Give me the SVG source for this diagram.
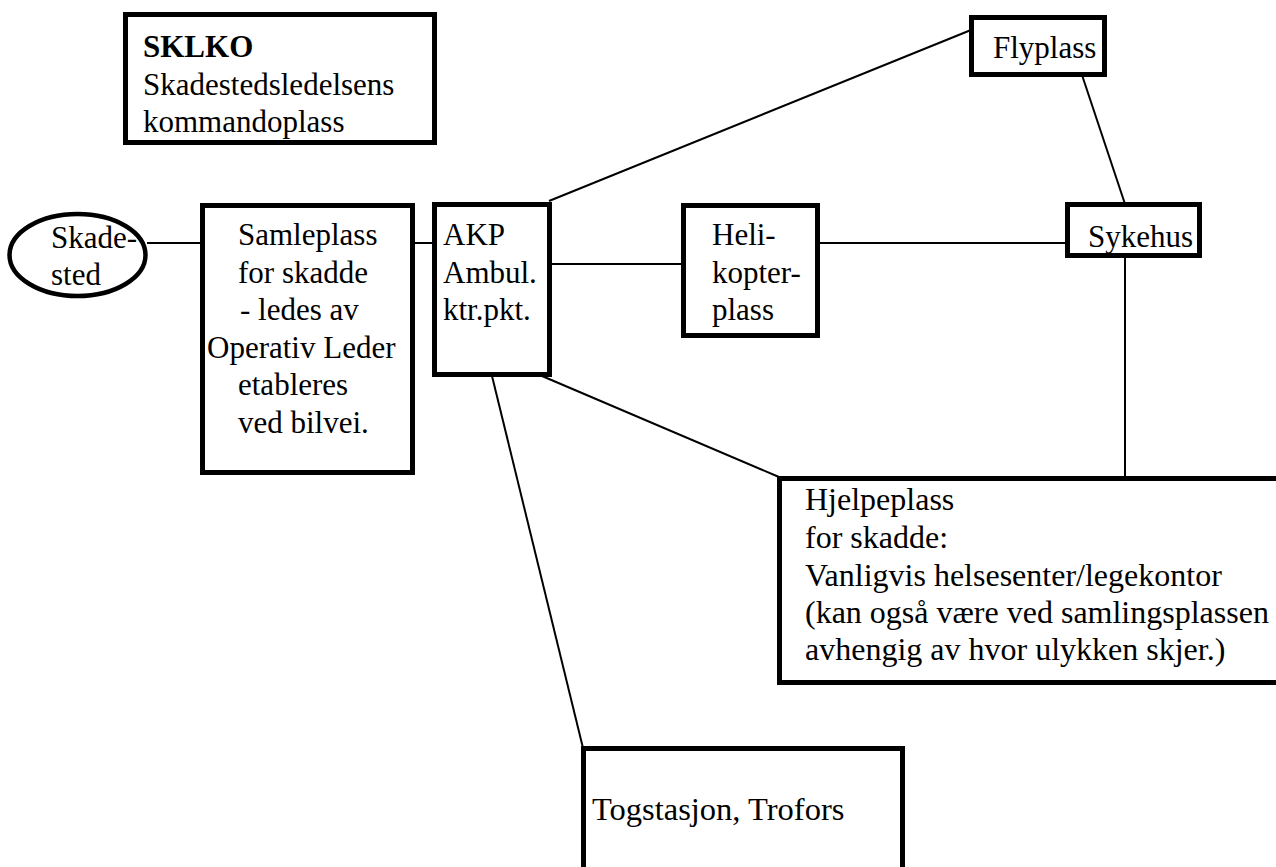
<svg xmlns="http://www.w3.org/2000/svg" width="1276" height="867" viewBox="0 0 1276 867">
<style>
.box{fill:#fff;stroke:#000;stroke-width:5}
.conn line{stroke:#000;stroke-width:2}
text{font-family:"Liberation Serif","Times New Roman",serif;font-size:31px;fill:#000}
.b{font-weight:bold}
.l{font-size:32px}
.t{font-size:32.5px}
</style>
<rect width="1276" height="867" fill="#fff"/>
<g class="conn">
<line x1="147" y1="243" x2="203" y2="243"/>
<line x1="413" y1="243" x2="434" y2="243"/>
<line x1="550" y1="264" x2="683" y2="264"/>
<line x1="818" y1="243" x2="1068" y2="243"/>
<line x1="549" y1="201" x2="971" y2="30"/>
<line x1="1082" y1="75" x2="1125" y2="204"/>
<line x1="1125" y1="256" x2="1125" y2="478"/>
<line x1="542" y1="376" x2="779" y2="477"/>
<line x1="492" y1="376" x2="583" y2="748"/>
</g>
<g id="sklko">
<rect class="box" x="125.5" y="14.5" width="309" height="128"/>
<text x="143" y="57" class="b">SKLKO</text>
<text x="143" y="95">Skadestedsledelsens</text>
<text x="143" y="132">kommandoplass</text>
</g>
<g id="skadested">
<ellipse cx="77.5" cy="255" rx="68" ry="41" fill="#fff" stroke="#000" stroke-width="4.5"/>
<text x="51" y="248">Skade-</text>
<text x="51" y="285">sted</text>
</g>
<g id="samleplass">
<rect class="box" x="202.5" y="205.5" width="210" height="267"/>
<text x="238" y="245">Samleplass</text>
<text x="238" y="283">for skadde</text>
<text x="240" y="320">- ledes av</text>
<text x="207" y="358">Operativ Leder</text>
<text x="238" y="395">etableres</text>
<text x="238" y="433">ved bilvei.</text>
</g>
<g id="akp">
<rect class="box" x="434.5" y="204.5" width="115" height="170"/>
<text x="443" y="245">AKP</text>
<text x="443" y="283">Ambul.</text>
<text x="443" y="320">ktr.pkt.</text>
</g>
<g id="helikopterplass">
<rect class="box" x="683.5" y="205.5" width="134" height="130"/>
<text x="712" y="245">Heli-</text>
<text x="712" y="283">kopter-</text>
<text x="712" y="320">plass</text>
</g>
<g id="flyplass">
<rect class="box" x="971.5" y="17.5" width="133" height="57"/>
<text x="993" y="58">Flyplass</text>
</g>
<g id="sykehus">
<rect class="box" x="1067.5" y="204.5" width="132" height="51"/>
<text x="1088" y="247">Sykehus</text>
</g>
<g id="hjelpeplass">
<rect class="box" x="779.5" y="478.5" width="520" height="204"/>
<text class="l" x="805" y="510">Hjelpeplass</text>
<text class="l" x="805" y="548">for skadde:</text>
<text class="l" x="805" y="586">Vanligvis helsesenter/legekontor</text>
<text class="l" x="805" y="623">(kan også være ved samlingsplassen</text>
<text class="l" x="805" y="660">avhengig av hvor ulykken skjer.)</text>
</g>
<g id="togstasjon">
<rect class="box" x="583.5" y="748.5" width="319" height="150"/>
<text class="t" x="592" y="820">Togstasjon, Trofors</text>
</g>
</svg>
